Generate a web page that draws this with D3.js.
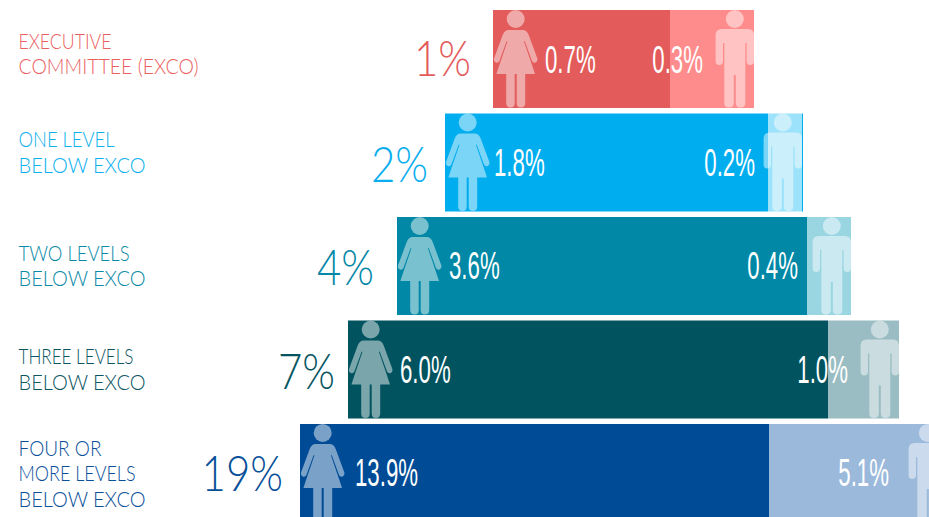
<!DOCTYPE html>
<html>
<head>
<meta charset="utf-8">
<script src="https://cdnjs.cloudflare.com/ajax/libs/d3/7.8.5/d3.min.js"></script>
<style>
    html, body { margin: 0; padding: 0; background: #fff; overflow: hidden; }
    svg { display: block; }
    .big-label, .row-label { font-family: Lato, sans-serif; font-weight: 300; }
    .value-label { font-family: "Liberation Sans Narrow", "Liberation Sans", sans-serif; fill: #fff; }
</style>
</head>
<body>
<div id="chart"></div>
<script>
// values
var levels = ["EXCO", "L1", "L2", "L3", "L4"];
var levelLabels = [
    ["EXECUTIVE", "COMMITTEE (EXCO)"],
    ["ONE LEVEL", "BELOW EXCO"],
    ["TWO LEVELS", "BELOW EXCO"],
    ["THREE LEVELS", "BELOW EXCO"],
    ["FOUR OR", "MORE LEVELS", "BELOW EXCO"]
];
var totalLabels = ["1%", "2%", "4%", "7%", "19%"];
var womenLabels = ["0.7%", "1.8%", "3.6%", "6.0%", "13.9%"];
var menLabels = ["0.3%", "0.2%", "0.4%", "1.0%", "5.1%"];
// unrounded estimates, taken from where each bar splits
var women = [0.68, 1.81, 3.61, 6.10, 13.77];
var men = [0.32, 0.19, 0.39, 0.90, 5.23];

var darkColors = ["#e35b5b", "#00aeef", "#0088a6", "#01535f", "#004b96"];
var lightColors = ["#ff8c8c", "#9be2fa", "#9ad5e2", "#99bdc3", "#9bb9db"];
var labelColors = ["#ea5f5f", "#0db0ee", "#0a8aa7", "#0a5561", "#0a5099"];
var bigColors = ["#e35b5b", "#0aaeee", "#0588a8", "#05545f", "#074f98"];

var womanPath = "M-7,20L7,20Q11,20 13,25L21.5,48Q22.5,51 20,52.5Q17.5,53.5 16.3,51L9,31L8.3,31.5L15.5,52.5L19.3,64L9.5,64L9.5,93Q9.5,97.5 5,97.5Q1,97.5 1,93L1,64L-1,64L-1,93Q-1,97.5 -5,97.5Q-9.5,97.5 -9.5,93L-9.5,64L-19.3,64L-15.5,52.5L-8.3,31.5L-9,31L-16.3,51Q-17.5,53.5 -20,52.5Q-22.5,51 -21.5,48L-13,25Q-11,20 -7,20Z";
var manPath = "M-13,19L13,19Q19.2,19 19.2,25L19.2,51Q19.2,55 15.5,55Q11.8,55 11.8,51L11.8,33L10.5,33L10.5,93Q10.5,97.5 5.8,97.5Q1,97.5 1,93L1,65L-1,65L-1,93Q-1,97.5 -5.8,97.5Q-10.5,97.5 -10.5,93L-10.5,33L-11.8,33L-11.8,51Q-11.8,55 -15.5,55Q-19.2,55 -19.2,51L-19.2,25Q-19.2,19 -13,19Z";

var width = 929, height = 517, center = 623.5;

var svg = d3.select("#chart").append("svg")
    .attr("width", width)
    .attr("height", height);

var y = d3.scaleBand()
    .domain(levels)
    .range([10, 522])
    .paddingInner(0.053);

// the pyramid widens by the same step each row, it is not to scale across rows
var halfWidth = d3.scaleLinear()
    .domain([0, levels.length - 1])
    .range([130.5, 323.5]);

// hand placed text in the original, so these are nudges per row
var totalRight = [-22, -17, -23, -13, -17];
var totalBase = [66, 69, 68, 69, 67];
var labelBase = [39, 34, 44, 44, 32];
var valueInset = [52, 49, 52, 52, 55];
var menInset = [51, 47, 53, 51, 58];
var edgeLine = [0, 1, 0, 0, 0];
var lineHeight = 25.3;
// the original face has other proportions, so each line is fitted to its width
var labelWidths = [[93, 180], [96, 127], [111, 127], [115, 127], [83, 117, 127]];

levels.forEach(function(level, i) {
    var left = Math.round(center - halfWidth(i)),
        right = Math.round(center + halfWidth(i)),
        top = y(level),
        total = women[i] + men[i];

    var x = d3.scaleLinear()
        .domain([0, total])
        .rangeRound([left, right]);

    var row = svg.append("g").attr("class", "row");

    row.append("rect")
        .attr("x", left)
        .attr("y", top)
        .attr("width", x(women[i]) - left)
        .attr("height", y.bandwidth())
        .attr("fill", darkColors[i]);

    row.append("rect")
        .attr("x", x(women[i]))
        .attr("y", top)
        .attr("width", x(total) - x(women[i]))
        .attr("height", y.bandwidth())
        .attr("fill", lightColors[i]);

    // thin sliver of the dark colour past the light part (second row only)
    row.append("rect")
        .attr("x", right)
        .attr("y", top)
        .attr("width", edgeLine[i])
        .attr("height", y.bandwidth())
        .attr("fill", darkColors[i]);

    // icons
    var woman = row.append("g")
        .attr("transform", "translate(" + (left + 22.7) + "," + top + ")")
        .attr("fill", "#fff")
        .attr("fill-opacity", 0.48);
    woman.append("circle").attr("cy", 9).attr("r", 9);
    woman.append("path").attr("d", womanPath);

    var man = row.append("g")
        .attr("transform", "translate(" + (right - 19.2) + "," + top + ")")
        .attr("fill", "#fff")
        .attr("fill-opacity", 0.48);
    man.append("circle").attr("cy", 9).attr("r", 9);
    man.append("path").attr("d", manPath);

    // values inside the bar
    row.append("text")
        .attr("class", "value-label")
        .attr("transform", "translate(" + (left + valueInset[i]) + "," + (top + 62.5) + ") scale(0.57,1)")
        .style("font-size", "39px")
        .text(womenLabels[i]);

    row.append("text")
        .attr("class", "value-label")
        .attr("text-anchor", "end")
        .attr("transform", "translate(" + (right - menInset[i]) + "," + (top + 62.5) + ") scale(0.57,1)")
        .style("font-size", "39px")
        .text(menLabels[i]);

    // big total to the left of the bar
    row.append("text")
        .attr("class", "big-label")
        .attr("text-anchor", "end")
        .attr("transform", "translate(" + (left + totalRight[i]) + "," + (top + totalBase[i]) + ") scale(0.84,1)")
        .style("font-size", "50px")
        .attr("fill", bigColors[i])
        .text(totalLabels[i]);

    // row name
    row.selectAll(".row-label")
        .data(levelLabels[i])
        .enter()
        .append("text")
        .attr("class", "row-label")
        .attr("x", 18.5)
        .attr("y", function(d, k) { return top + labelBase[i] + k * lineHeight; })
        .attr("textLength", function(d, k) { return labelWidths[i][k]; })
        .attr("lengthAdjust", "spacingAndGlyphs")
        .style("font-size", "21px")
        .attr("fill", labelColors[i])
        .text(function(d) { return d; });
});
</script>
</body>
</html>
